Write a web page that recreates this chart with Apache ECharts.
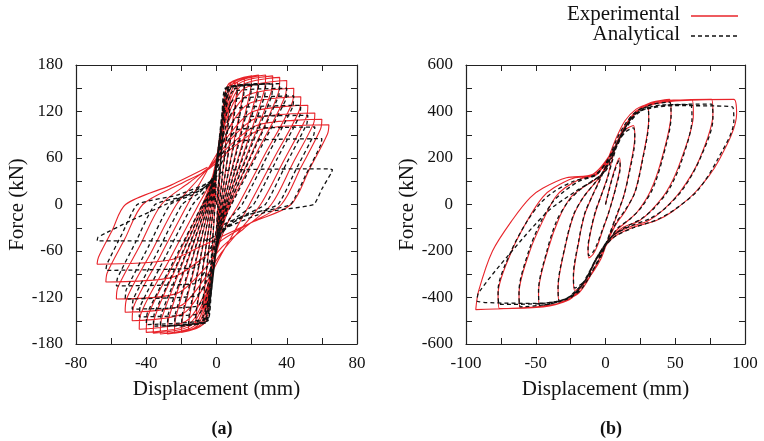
<!DOCTYPE html>
<html><head><meta charset="utf-8">
<script src="https://cdn.jsdelivr.net/npm/echarts@6/dist/echarts.min.js"></script>
<style>html,body{margin:0;padding:0;background:#fff}#c{width:764px;height:441px}</style>
</head><body><div id="c"></div>
<script>
// Panel (a): experimental hysteresis (displacement mm, force kN)
const expA = [
[0,0],[4,100],[3.2,88],[2,44],[0.8,0],[0.4,-14],[0.1,-30],[-2.4,-67],[-3,-89],[-4,-95],[-3.2,-84],[-2,-42],[-0.8,0],[-0.4,21],[-0.1,45],[2.8,98],[4.5,132],
[8,140],[7.2,123],[4.4,62],[1.6,0],[0.8,-20],[0.2,-43],[-2.8,-95],[-4.5,-127],[-8,-135],[-7.2,-119],[-4.4,-59],[-1.6,0],[-0.8,24],[-0.2,51],[3.2,111],[5.6,149],
[12,158],[11.2,139],[6.8,70],[2.4,0],[1.2,-23],[0.2,-50],[-3.2,-109],[-5.6,-146],[-12,-155],[-11.2,-136],[-6.8,-68],[-2.4,0],[-1.2,25],[-0.2,52],[3.6,115],[6.4,154],
[16,164],[15.2,144],[9.2,72],[3.2,0],[1.6,-24],[0.3,-52],[-3.6,-113],[-6.4,-152],[-16,-162],[-15.2,-143],[-9.2,-71],[-3.2,0],[-1.6,25],[-0.3,53],[4,116],[8,156],
[20,166],[19.2,146],[11.6,73],[4,0],[2,-25],[0.4,-53],[-4,-116],[-8,-155],[-20,-165],[-19.2,-145],[-11.6,-73],[-4,0],[-2,25],[-0.4,53],[4.4,117],[9.6,157],
[24,167],[23.2,147],[14,73],[4.8,0],[2.4,-25],[0.5,-53],[-4.4,-116],[-9.6,-156],[-24,-166],[-23.2,-146],[-14,-73],[-4.8,0],[-2.4,25],[-0.5,53],[4.8,117],[11.2,157],
[28,167],[27.2,147],[16.4,73],[5.6,0],[2.8,-25],[0.6,-53],[-4.8,-117],[-11.2,-157],[-28,-167],[-27.2,-147],[-16.4,-73],[-5.6,0],[-2.8,25],[-0.6,53],[5.2,116],[12.8,156],
[32,166],[31.2,146],[18.8,73],[6.4,0],[3.2,-25],[0.6,-53],[-5.2,-117],[-12.8,-157],[-32,-167],[-31.2,-147],[-18.8,-73],[-6.4,0],[-3.2,25],[-0.6,52],[5.6,115],[14.4,154],
[36,164],[35.2,144],[21.2,72],[7.2,0],[3.6,-25],[0.7,-53],[-5.6,-116],[-14.4,-156],[-36,-166],[-35.2,-146],[-21.2,-73],[-7.2,0],[-3.6,24],[-0.7,51],[6,112],[16,150],
[40,160],[39.2,141],[23.6,70],[8,0],[4,-25],[0.8,-53],[-6,-116],[-16,-155],[-40,-165],[-39.2,-145],[-23.6,-73],[-8,0],[-4,23],[-0.8,48],[6.4,105],[17.6,141],
[44,150],[43.2,132],[27.9,66],[12.5,0],[6.3,-24],[1.3,-52],[-6.4,-113],[-17.6,-151],[-44,-161],[-43.2,-142],[-26.7,-71],[-10.2,0],[-5.1,21],[-1,44],[6.8,97],[19.2,131],
[48,139],[47.2,122],[33,61],[18.8,0],[9.4,-38],[1.9,-68],[-6.8,-105],[-19.2,-141],[-48,-150],[-47.2,-132],[-31.9,-66],[-16.5,0],[-8.3,32],[-1.7,58],[7.2,90],[20.8,120],
[52,128],[51.2,113],[38.2,56],[25.1,0],[12.6,-35],[2.5,-63],[-7.2,-97],[-20.8,-131],[-52,-139],[-51.2,-122],[-37,-61],[-22.8,0],[-11.4,30],[-2.3,53],[7.6,83],[22.4,111],
[56,118],[55.2,104],[43.2,52],[31.2,0],[15.6,-31],[3.1,-55],[-7.7,-85],[-22.8,-115],[-57,-122],[-56.2,-107],[-43.8,-54],[-31.4,0],[-15.7,28],[-3.1,50],[8,77],[24,103],
[60,110],[59.2,97],[48.1,48],[36.9,0],[18.5,-25],[3.7,-45],[-8.3,-70],[-25.2,-94],[-63,-100],[-62.2,-88],[-52.1,-44],[-42,0],[-21,26],[-4.2,46],[8.4,72],[25.6,97],
[64,103],[63.2,91],[52.8,45],[42.4,0],[21.2,-22],[4.2,-40],[-8.8,-54],[-27.2,-72],[-68,-77],[-67.2,-68],[-59.5,-34],[-51.8,0],[-25.9,25],[-5.2,48]
];
// Panel (a): analytical
const anaA = [
[0,0],[4,95],[3.4,86],[2.1,43],[0.8,0],[0.4,-12],[0.1,-28],[-2.7,-74],[-3.2,-89],[-4,-92],[-3.4,-83],[-2.1,-41],[-0.8,0],[-0.4,17],[-0.1,40],[3,106],[3.8,128],
[8,132],[7.4,119],[4.5,59],[1.6,0],[0.8,-17],[0.2,-39],[-3,-104],[-3.8,-126],[-8,-130],[-7.4,-117],[-4.5,-59],[-1.6,0],[-0.8,20],[-0.2,45],[3.2,120],[4.4,146],
[12,150],[11.4,135],[6.9,68],[2.4,0],[1.2,-20],[0.2,-45],[-3.2,-120],[-4.4,-146],[-12,-150],[-11.4,-135],[-6.9,-68],[-2.4,0],[-1.2,20],[-0.2,47],[3.5,124],[4.9,150],
[16,155],[15.4,140],[9.3,70],[3.2,0],[1.6,-20],[0.3,-47],[-3.5,-124],[-4.9,-150],[-16,-155],[-15.4,-140],[-9.3,-70],[-3.2,0],[-1.6,20],[-0.3,47],[3.7,125],[5.6,151],
[20,156],[19.4,140],[11.7,70],[4,0],[2,-20],[0.4,-47],[-3.7,-126],[-5.6,-152],[-20,-157],[-19.4,-141],[-11.7,-71],[-4,0],[-2,20],[-0.4,47],[3.9,125],[6.3,151],
[24,156],[23.4,140],[14.1,70],[4.8,0],[2.4,-20],[0.5,-47],[-3.9,-126],[-6.3,-152],[-24,-157],[-23.4,-141],[-14.1,-71],[-4.8,0],[-2.4,20],[-0.5,47],[4.2,125],[7,151],
[28,156],[27.4,140],[16.5,70],[5.6,0],[2.8,-20],[0.6,-47],[-4.2,-126],[-7,-152],[-28,-157],[-27.4,-141],[-16.5,-71],[-5.6,0],[-2.8,20],[-0.6,47],[4.4,125],[7.8,151],
[32,156],[31.4,140],[18.9,70],[6.4,0],[3.2,-20],[0.6,-47],[-4.4,-126],[-7.8,-152],[-32,-157],[-31.4,-141],[-18.9,-71],[-6.4,0],[-3.2,20],[-0.6,47],[4.7,125],[8.5,151],
[36,156],[35.4,140],[21.3,70],[7.2,0],[3.6,-20],[0.7,-47],[-4.7,-126],[-8.5,-152],[-36,-157],[-35.4,-141],[-21.3,-71],[-7.2,0],[-3.6,20],[-0.7,45],[4.9,120],[9.2,146],
[40,150],[39.4,135],[24,68],[8.5,0],[4.3,-20],[0.9,-47],[-4.9,-124],[-9.2,-150],[-40,-155],[-39.4,-140],[-23.7,-70],[-8,0],[-4,18],[-0.8,42],[5.1,112],[9.9,136],
[44,140],[43.4,126],[29,63],[14.6,0],[7.3,-19],[1.5,-44],[-5.1,-116],[-9.9,-141],[-44,-145],[-43.4,-131],[-28.5,-65],[-13.5,0],[-6.8,17],[-1.4,38],[5.4,102],[10.6,124],
[48,128],[47.4,115],[34.3,58],[21.1,0],[10.6,-18],[2.1,-41],[-5.4,-108],[-10.6,-131],[-48,-135],[-47.4,-122],[-33.5,-61],[-19.6,0],[-9.8,15],[-2,35],[5.6,92],[11.4,112],
[52,115],[51.4,104],[39.6,52],[27.8,0],[13.9,-16],[2.8,-37],[-5.6,-98],[-11.4,-118],[-52,-122],[-51.4,-110],[-38.9,-55],[-26.4,0],[-13.2,13],[-2.6,30],[5.9,80],[12.1,97],
[56,100],[55.4,90],[45.2,45],[35,0],[17.5,-14],[3.5,-32],[-5.9,-84],[-12.3,-102],[-57,-105],[-56.4,-95],[-45.7,-47],[-35,0],[-17.5,11],[-3.5,26],[6.1,68],[12.8,82],
[60,85],[59.4,77],[50.8,38],[42.1,0],[21.1,-11],[4.2,-26],[-6.3,-68],[-13.3,-82],[-63,-85],[-62.4,-77],[-53.8,-38],[-45.1,0],[-22.6,12],[-4.5,28],[5,44],[64,46],
[66,45],[65.4,41],[60,20],[55.3,0],[27.7,-10],[5.5,-30],[-4,-45],[-10,-47],[-68,-47],[-67.4,-42],[-48,-20],[-29,0],[-12,18],[0,35]
];
// Panel (b): experimental
const expB = [
[0,0],[5,120],[10,200],[10.5,170],[8,90],[5,20],[2,-40],[-2,-110],[-6,-180],[-9,-215],[-12,-230],
[-12.5,-195],[-10,-100],[-7,-30],[-3,40],[1,110],[5,200],[9,280],[14,320],[20,340],
[21,292],[17,143],[13,35],[8,-50],[3,-130],[-3,-230],[-10,-300],[-16,-345],[-22,-370],
[-23,-318],[-19,-155],[-15,-45],[-10,30],[-4,110],[2,200],[8,290],[14,360],[22,410],[30,430],
[31,370],[26,180],[21,52],[14,-30],[8,-80],[2,-150],[-5,-240],[-13,-330],[-20,-385],[-33,-420],
[-34,-360],[-29,-185],[-23,-50],[-16,30],[-8,90],[0,150],[6,240],[15,350],[24,410],[33,440],[46,452],
[47,392],[40,190],[32,55],[23,-30],[16,-70],[8,-110],[3,-150],[-6,-230],[-15,-335],[-26,-410],[-47,-440],
[-48,-378],[-41,-190],[-33,-55],[-25,30],[-17,70],[-9,100],[-3,130],[6,230],[16,350],[25,410],[40,445],[62,450],
[63,387],[54,189],[44,58],[32,-31],[24,-71],[13,-97],[4,-142],[-6,-228],[-16,-343],[-27,-410],[-40,-436],[-61,-445],
[-62,-383],[-54,-196],[-44,-58],[-36,31],[-29,72],[-18,110],[-6,130],[5,230],[15,348],[24,410],[45,445],[76,452],
[77,389],[67,190],[54,59],[40,-31],[30,-72],[16,-99],[4,-143],[-6,-228],[-16,-345],[-28,-412],[-45,-440],[-76,-448],
[-77,-385],[-67,-197],[-55,-58],[-45,32],[-37,72],[-23,113],[-7,130],[5,230],[15,348],[24,410],[50,445],[92,452],
[94,390],[81,187],[65,57],[48,-30],[36,-70],[19,-100],[5,-145],[-6,-230],[-16,-345],[-28,-415],[-50,-440],[-93,-452],
[-91,-373],[-81,-200],[-66,-60],[-54,30],[-45,70],[-28,115],[-9,130],[5,230],[15,347],[20,390]
];
// Panel (b): analytical
const anaB = [
[0,0],[5,115],[10,190],[10.5,160],[8,85],[5,20],[2,-40],[-2,-105],[-6,-170],[-9,-205],[-12,-220],
[-12.5,-185],[-10,-95],[-7,-25],[-3,40],[1,105],[5,190],[9,265],[14,310],[20,330],
[21,280],[17,135],[13,35],[8,-45],[3,-125],[-3,-220],[-10,-290],[-16,-335],[-22,-360],
[-23,-305],[-19,-150],[-15,-40],[-10,30],[-4,105],[2,190],[8,280],[14,345],[22,400],[30,420],
[31,360],[26,175],[21,50],[14,-25],[8,-75],[2,-145],[-5,-235],[-13,-325],[-20,-380],[-33,-415],
[-34,-355],[-29,-180],[-23,-45],[-16,30],[-8,90],[0,150],[6,235],[15,340],[24,400],[33,430],[46,440],
[47,380],[41,200],[34,70],[26,-10],[18,-60],[9,-100],[3,-150],[-6,-230],[-15,-330],[-25,-400],[-47,-435],
[-48,-370],[-42,-200],[-35,-70],[-27,10],[-19,60],[-10,100],[-3,130],[6,225],[16,340],[25,400],[40,428],[61,430],
[62,370],[55,195],[46,70],[35,-15],[26,-60],[15,-95],[4,-140],[-6,-225],[-16,-335],[-27,-400],[-40,-428],[-61,-440],
[-62,-375],[-55,-200],[-46,-70],[-38,10],[-30,55],[-19,100],[-6,130],[5,225],[15,340],[24,400],[45,428],[76,432],
[77,370],[68,200],[56,70],[43,-15],[32,-60],[17,-95],[4,-140],[-6,-225],[-16,-340],[-28,-405],[-45,-425],[-76,-430],
[-77,-370],[-68,-205],[-56,-70],[-46,10],[-37,55],[-23,100],[-7,130],[5,225],[15,340],[24,400],[50,425],[91,420],
[92,360],[80,190],[66,60],[50,-20],[37,-65],[20,-100],[5,-145],[-6,-230],[-16,-340],[-28,-405],[-50,-425],[-92,-415],
[-91,-380],[-69,-214],[-41,-28],[-21,58],[0,144],[8,260],[18,370]
];
const seriesNames = ['Experimental', 'Analytical'];
const xTitle = 'Displacement (mm)';
const yTitle = 'Force (kN)';
const panelLabels = ['(a)', '(b)'];

const FONT = 'Liberation Serif';
const RED = '#e8242a';
const BLK = '#111';
function xAx(gi, min, max, iv, show) {
  return {type:'value', gridIndex:gi, min, max, interval:iv, position: show?'bottom':'top',
    name: show? xTitle : '', nameLocation:'middle', nameGap:35,
    nameTextStyle:{fontFamily:FONT, fontSize:21, color:'#111'},
    axisLine:{show:true, onZero:false, lineStyle:{color:'#222', width:1.2}},
    axisTick:{show:true, inside:true, length:6, lineStyle:{color:'#222'}},
    minorTick:{show:true, splitNumber:2, length:6, lineStyle:{color:'#222'}},
    axisLabel:{show:show, fontFamily:FONT, fontSize:17, color:'#111', margin:11},
    splitLine:{show:false}, minorSplitLine:{show:false}};
}
function yAx(gi, min, max, iv, show) {
  return {type:'value', gridIndex:gi, min, max, interval:iv, position: show?'left':'right',
    name: show? yTitle : '', nameLocation:'middle', nameGap:42, nameRotate:90,
    nameTextStyle:{fontFamily:FONT, fontSize:21, color:'#111'},
    axisLine:{show:true, onZero:false, lineStyle:{color:'#222', width:1.2}},
    axisTick:{show:true, inside:true, length:6, lineStyle:{color:'#222'}},
    minorTick:{show:true, splitNumber:2, length:6, lineStyle:{color:'#222'}},
    axisLabel:{show:show, fontFamily:FONT, fontSize:17, color:'#111', margin:13},
    splitLine:{show:false}, minorSplitLine:{show:false}};
}
const chart = echarts.init(document.getElementById('c'), null, {renderer:'canvas'});
chart.setOption({
  animation:false, backgroundColor:'#fff',
  grid:[{left:76, top:65, width:281, height:279}, {left:466, top:65, width:279, height:279}],
  xAxis:[xAx(0,-80,80,40,true), xAx(0,-80,80,40,false), xAx(1,-100,100,50,true), xAx(1,-100,100,50,false)],
  yAxis:[yAx(0,-180,180,60,true), yAx(0,-180,180,60,false), yAx(1,-600,600,200,true), yAx(1,-600,600,200,false)],
  title:[
    {text:panelLabels[0], left:217, top:415, textAlign:'center', textStyle:{fontFamily:FONT, fontSize:18, fontWeight:'bold', color:'#111'}},
    {text:panelLabels[1], left:606, top:415, textAlign:'center', textStyle:{fontFamily:FONT, fontSize:18, fontWeight:'bold', color:'#111'}}
  ],
  graphic:[
    {type:'text', right:84, top:4, style:{text:seriesNames[0], font:'21px "Liberation Serif"', fill:'#111'}},
    {type:'text', right:84, top:24, style:{text:seriesNames[1], font:'21px "Liberation Serif"', fill:'#111'}},
    {type:'line', shape:{x1:691, y1:16, x2:738, y2:16}, style:{stroke:RED, lineWidth:1.3}},
    {type:'line', shape:{x1:691, y1:36, x2:738, y2:36}, style:{stroke:BLK, lineWidth:1.3, lineDash:[4,3]}}
  ],
  series:[
    {name:seriesNames[0], type:'line', xAxisIndex:0, yAxisIndex:0, data:expA, symbol:'none', smooth:0.3, lineStyle:{color:RED, width:1.1}},
    {name:seriesNames[1], type:'line', xAxisIndex:0, yAxisIndex:0, data:anaA, symbol:'none', smooth:0.15, lineStyle:{color:BLK, width:1.3, type:[4,3]}},
    {name:seriesNames[0], type:'line', xAxisIndex:2, yAxisIndex:2, data:expB, symbol:'none', smooth:0.3, lineStyle:{color:RED, width:1.1}},
    {name:seriesNames[1], type:'line', xAxisIndex:2, yAxisIndex:2, data:anaB, symbol:'none', smooth:0.3, lineStyle:{color:BLK, width:1.3, type:[4,3]}}
  ]
});
</script></body></html>
